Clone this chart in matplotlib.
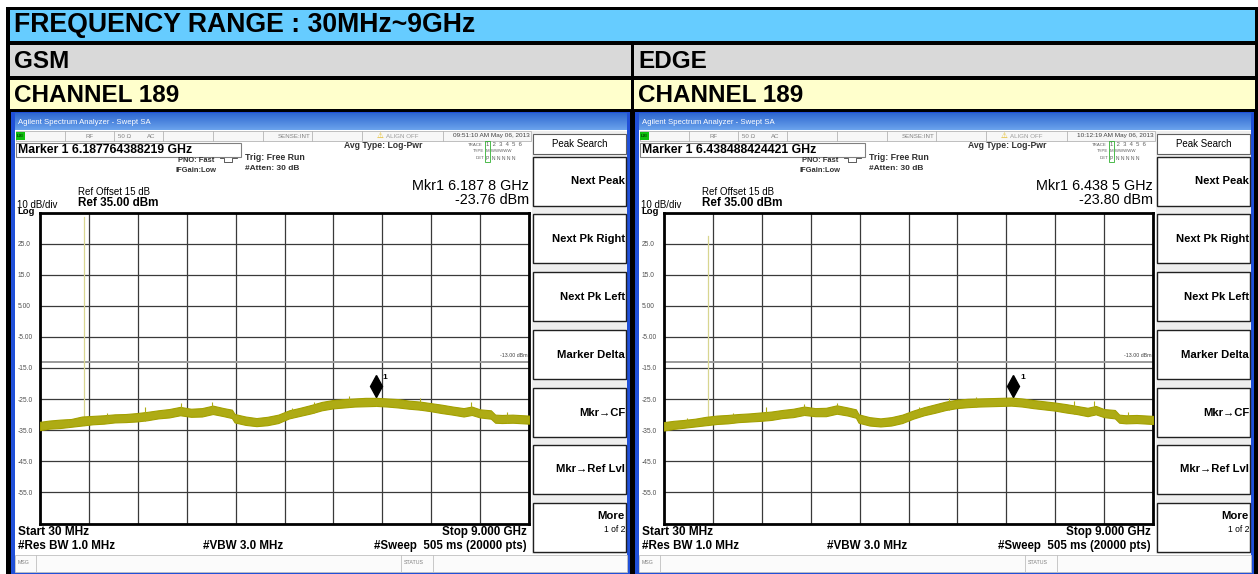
import numpy as np
import matplotlib.pyplot as plt
from matplotlib.patches import Rectangle
from matplotlib.colors import LinearSegmentedColormap
from matplotlib.transforms import offset_copy

plt.rcParams['font.family'] = ['Liberation Sans', 'DejaVu Sans']

W, H = 1258, 574

freq_ghz = [0.03, 0.2, 0.4, 0.6, 0.8, 1.0, 1.2, 1.4, 1.6, 1.8, 2.0, 2.2, 2.4, 2.6,
            2.8, 3.0, 3.2, 3.4, 3.55, 3.6, 3.8, 4.0, 4.2, 4.4, 4.6, 4.8, 5.0, 5.2,
            5.4, 5.6, 5.8, 6.0, 6.2, 6.4, 6.6, 6.8, 7.0, 7.2, 7.4, 7.6, 7.8, 7.95,
            8.1, 8.3, 8.38, 8.5, 8.7, 9.0]

gsm_hi = [-32.3, -31.9, -31.6, -31.4, -30.6, -30.4, -30.2, -29.9, -29.8, -29.5, -29.1, -28.6,
          -28.2, -27.5, -28.1, -27.9, -27.1, -27.9, -28.4, -29.8, -30.6, -31.1, -30.7, -30.0,
          -28.6, -27.8, -26.9, -25.9, -25.3, -25.0, -24.8, -24.6, -24.6, -24.8, -25.0, -25.5,
          -25.8, -26.3, -26.8, -27.4, -27.9, -27.4, -28.3, -28.6, -30.0, -30.1, -30.0, -30.3]
gsm_lo = [-35.0, -34.5, -34.3, -33.9, -33.5, -33.1, -32.9, -32.5, -32.4, -32.2, -31.8, -31.2,
          -30.9, -30.2, -30.7, -30.6, -29.8, -30.5, -31.1, -32.5, -33.3, -33.7, -33.4, -32.7,
          -31.2, -30.4, -29.6, -28.6, -28.0, -27.7, -27.4, -27.3, -27.2, -27.4, -27.7, -28.1,
          -28.4, -28.9, -29.5, -30.0, -30.6, -30.1, -30.9, -31.3, -32.6, -32.7, -32.6, -32.9]

edge_hi = [-32.4, -32.0, -31.7, -31.3, -30.7, -30.3, -30.1, -29.8, -29.6, -29.3, -29.0, -28.5,
           -28.1, -27.4, -27.9, -27.8, -27.0, -27.7, -28.3, -29.9, -30.8, -31.2, -30.8, -30.0,
           -28.7, -27.6, -26.7, -25.8, -25.2, -24.9, -24.8, -24.7, -24.6, -24.5, -24.8, -25.3,
           -25.7, -26.1, -26.6, -27.2, -27.8, -27.2, -28.2, -28.5, -30.0, -30.2, -30.1, -30.4]
edge_lo = [-35.1, -34.6, -34.2, -33.8, -33.4, -33.0, -32.8, -32.4, -32.2, -32.0, -31.7, -31.1,
           -30.8, -30.1, -30.5, -30.5, -29.7, -30.3, -31.0, -32.6, -33.5, -33.8, -33.5, -32.7,
           -31.3, -30.2, -29.4, -28.5, -27.9, -27.6, -27.4, -27.3, -27.2, -27.1, -27.4, -27.9,
           -28.3, -28.7, -29.3, -29.8, -30.5, -29.9, -30.8, -31.2, -32.6, -32.8, -32.7, -33.0]

gsm_spike_f = [0.55, 1.25, 1.95, 2.62, 3.18, 4.65, 5.05, 5.7, 6.19, 7.0, 7.93, 8.6]
gsm_spike_db = [-31.4, -29.6, -27.6, -26.4, -26.0, -27.9, -25.8, -24.1, -23.8, -24.8, -26.0, -29.2]
edge_spike_f = [0.45, 1.3, 1.9, 2.6, 3.2, 4.7, 5.25, 5.75, 6.44, 7.55, 7.92, 8.55]
edge_spike_db = [-31.2, -29.4, -27.5, -26.6, -26.1, -27.6, -24.7, -24.2, -23.8, -25.5, -25.6, -29.3]

carrier_ghz = 0.8364
gsm_carrier_db = 33.6
edge_carrier_db = 27.4
gsm_marker = (6.1878, -23.76)
edge_marker = (6.4385, -23.80)
limit_db = -13.0
start_ghz, stop_ghz = 0.03, 9.0
ref_db, bottom_db = 35.0, -65.0

ytick_vals = [25, 15, 5, -5, -15, -25, -35, -45, -55]
ytick_text = ["25.0", "15.0", "5.00", "-5.00", "-15.0", "-25.0", "-35.0", "-45.0", "-55.0"]
softkeys = ["Next Peak", "Next Pk Right", "Next Pk Left", "Marker Delta",
            "Mkr\u2192CF", "Mkr\u2192Ref Lvl", "More"]

# ---------------- figure / background axes in pixel units ----------------
fig = plt.figure(figsize=(W / 100, H / 100), dpi=100)
bg = fig.add_axes([0, 0, 1, 1])
bg.axis('off')


def rect(x0, y0, x1, y1, fc, ec='none', lw=0.0, z=1):
    bg.add_patch(Rectangle((x0, y0), x1 - x0, y1 - y0, facecolor=fc,
                           edgecolor=ec, linewidth=lw, zorder=z))


def txt(x, y, s, size, weight='normal', ha='left', color='black', z=5):
    bg.text(x, y, s, fontsize=size, fontweight=weight, ha=ha, va='center',
            color=color, zorder=z)


# table
rect(0, 0, W, H, 'white', z=0)
rect(6, 7, W, H, 'black', z=0.5)
rect(10, 10, 1255, 41, '#66ccff')
rect(10, 45, 631, 76, '#d9d9d9')
rect(634, 45, 1255, 76, '#d9d9d9')
rect(10, 80, 631, 109, '#ffffcc')
rect(634, 80, 1255, 109, '#ffffcc')
txt(14, 25.5, "FREQUENCY RANGE : 30MHz~9GHz", 19.2, 'bold')
txt(14, 61, "GSM", 17.5, 'bold')
txt(638, 61, "EDGE", 17.5, 'bold')
txt(14, 95, "CHANNEL 189", 17.5, 'bold')
txt(638, 95, "CHANNEL 189", 17.5, 'bold')

title_cmap = LinearSegmentedColormap.from_list('tb', ['#2f68d0', '#6aa2ec'])
grad = np.linspace(0, 1, 16).reshape(-1, 1)


def panel(dx, stamp, mk_full, mk_f_txt, mk_db_txt, hi, lo, sp_f, sp_db, car_db, mk):
    # window frame and title bar
    rect(11 + dx, 112, 630 + dx, 574, '#2050d8')
    bg.imshow(grad, cmap=title_cmap, extent=[15 + dx, 627 + dx, 130, 113],
              aspect='auto', zorder=2)
    txt(18 + dx, 122, "Agilent Spectrum Analyzer - Swept SA", 5.6, color='white')
    rect(15 + dx, 130, 627 + dx, 572, 'white', z=2)

    # status bar
    rect(16 + dx, 131, 531 + dx, 141, '#f7f7f7', ec='#b5b5b5', lw=0.6, z=3)
    for sx in [65, 114, 163, 213, 263, 312, 362, 443]:
        bg.plot([sx + dx, sx + dx], [131, 141], color='#b5b5b5', lw=0.6, zorder=4)
    rect(16 + dx, 132, 25 + dx, 140, '#10c010', z=4)
    txt(17 + dx, 136, "LXI", 3.2, 'bold', color='#004000')
    txt(85 + dx, 136, "RF", 4.4, color='#808080')
    txt(118 + dx, 136, "50 \u03a9", 4.4, color='#808080')
    txt(147 + dx, 136, "AC", 4.4, color='#808080')
    txt(310 + dx, 136, "SENSE:INT", 4.4, ha='right', color='#808080')
    txt(377 + dx, 136, "\u26a0", 5.5, color='#e0b000')
    txt(386 + dx, 136, "ALIGN OFF", 4.4, color='#9a9a9a')
    txt(530 + dx, 136, stamp, 4.6, ha='right', color='#404040')

    # marker readout box and settings
    rect(16 + dx, 143, 241 + dx, 157, 'white', ec='#808080', lw=0.8, z=3)
    txt(18 + dx, 150, mk_full, 8.8, 'bold')
    txt(178 + dx, 161, "PNO: Fast", 5.4, 'bold', color='#303030')
    txt(176 + dx, 171, "IFGain:Low", 5.4, 'bold', color='#303030')
    bg.plot([220 + dx, 224 + dx, 224 + dx, 232 + dx, 232 + dx, 237 + dx],
            [158, 158, 162, 162, 158, 158], color='#404040', lw=0.6, zorder=4)
    txt(245 + dx, 157, "Trig: Free Run", 6.3, 'bold', color='#303030')
    txt(245 + dx, 169, "#Atten: 30 dB", 6.0, 'bold', color='#303030')
    txt(422 + dx, 146, "Avg Type: Log-Pwr", 6.2, 'bold', ha='right', color='#303030')

    txt(483 + dx, 144.5, "TRACE", 3.2, ha='right', color='#606060')
    txt(484 + dx, 151.5, "TYPE", 3.2, ha='right', color='#606060')
    txt(484 + dx, 158, "DET", 3.2, ha='right', color='#606060')
    rect(485 + dx, 141, 490 + dx, 162, 'none', ec='#30b030', lw=0.6, z=4)
    txt(486 + dx, 144.5, "1  2  3  4  5  6", 4.2, color='#606060')
    txt(486 + dx, 151.5, "M WWWWW", 3.2, color='#606060')
    txt(486 + dx, 158, "P  N N N N N", 3.6, color='#606060')

    txt(529 + dx, 186, mk_f_txt, 10.4, ha='right')
    txt(529 + dx, 199.5, mk_db_txt, 10.4, ha='right')
    txt(78 + dx, 192, "Ref Offset 15 dB", 7.0)
    txt(78 + dx, 203.5, "Ref 35.00 dBm", 8.4, 'bold')
    txt(17 + dx, 205, "10 dB/div", 7.0)
    txt(17 + dx, 212, "Log", 6.8, 'bold')

    # bottom annotations and message bar
    txt(18 + dx, 532, "Start 30 MHz", 8.6, 'bold')
    txt(527 + dx, 532, "Stop 9.000 GHz", 8.4, 'bold', ha='right')
    txt(18 + dx, 546, "#Res BW 1.0 MHz", 8.4, 'bold')
    txt(203 + dx, 546, "#VBW 3.0 MHz", 8.4, 'bold')
    txt(527 + dx, 546, "#Sweep  505 ms (20000 pts)", 8.3, 'bold', ha='right')
    rect(15 + dx, 555, 627 + dx, 572, '#fbfbfb', ec='#c0c0c0', lw=0.6, z=3)
    bg.plot([401 + dx, 401 + dx], [555, 572], color='#c0c0c0', lw=0.6, zorder=4)
    bg.plot([36 + dx, 36 + dx], [555, 572], color='#c0c0c0', lw=0.6, zorder=4)
    bg.plot([433 + dx, 433 + dx], [555, 572], color='#c0c0c0', lw=0.6, zorder=4)
    txt(18 + dx, 563, "MSG", 3.8, color='#808080')
    txt(404 + dx, 563, "STATUS", 3.8, color='#808080')

    # softkey column
    rect(532 + dx, 131, 627 + dx, 554, '#eeeeee', z=3)
    rect(533 + dx, 134, 626 + dx, 154, 'white', ec='#606060', lw=0.8, z=4)
    txt(579.5 + dx, 144, "Peak Search", 7.0, ha='center')
    key_top = [157, 214, 272, 330, 388, 445, 503]
    for lab, ty in zip(softkeys, key_top):
        rect(533 + dx, ty, 626 + dx, ty + 49, 'white', ec='#202020', lw=1.0, z=4)
        if lab == "More":
            txt(625 + dx, ty + 13, lab, 8.2, 'bold', ha='right')
            txt(625 + dx, ty + 27, "1 of 2", 6.2, ha='right')
        else:
            txt(625 + dx, ty + 24.5, lab, 8.1, 'bold', ha='right')

    # plot area in data units
    ax = fig.add_axes([(40 + dx) / W, (H - 523.5) / H, 489 / W, 311 / H])
    ax.set_zorder(6)
    ax.set_xlim(start_ghz, stop_ghz)
    ax.set_ylim(bottom_db, ref_db)
    ax.set_xticks(np.linspace(start_ghz, stop_ghz, 11))
    ax.set_yticks(np.arange(bottom_db, ref_db + 1, 10))
    ax.grid(True, color='#3a3a3a', lw=0.9)
    ax.set_axisbelow(True)
    for s in ax.spines.values():
        s.set_linewidth(2.0)
        s.set_color('black')
    ax.tick_params(length=0, labelbottom=False)
    labs = []
    for v in np.arange(bottom_db, ref_db + 1, 10):
        labs.append(ytick_text[ytick_vals.index(int(v))] if int(v) in ytick_vals else "")
    ax.set_yticklabels(labs, fontsize=4.8, color='#505050')
    ax.tick_params(axis='y', pad=16)
    for t in ax.get_yticklabels():
        t.set_horizontalalignment('left')

    ax.axhline(limit_db, color='#9a9a9a', lw=1.4, zorder=2)
    ax.text(stop_ghz - 0.03, limit_db + 1.2, "-13.00 dBm", fontsize=3.8,
            ha='right', va='bottom', color='#404040')

    trace_c = '#aeab14'
    base = np.interp(carrier_ghz, freq_ghz, lo)
    ax.plot([carrier_ghz, carrier_ghz], [base, car_db], color='#d8d690', lw=0.9, zorder=3)
    ax.fill_between(freq_ghz, lo, hi, color=trace_c, edgecolor='#a3a000', lw=0.8, zorder=4)
    sp_base = np.interp(sp_f, freq_ghz, lo)
    ax.vlines(sp_f, sp_base, sp_db, color=trace_c, lw=0.8, zorder=4)

    mtr = offset_copy(ax.transData, fig=fig, y=6.5, units='points')
    ax.plot([mk[0]], [mk[1]], marker='d', ms=11, color='black', transform=mtr, zorder=7)
    ltr = offset_copy(ax.transData, fig=fig, x=5, y=13, units='points')
    ax.text(mk[0], mk[1], "1", fontsize=6, fontweight='bold', transform=ltr,
            ha='left', va='center', zorder=7)


panel(0, "09:51:10 AM May 06, 2013", "Marker 1 6.187764388219 GHz",
      "Mkr1 6.187 8 GHz", "-23.76 dBm", gsm_hi, gsm_lo, gsm_spike_f, gsm_spike_db,
      gsm_carrier_db, gsm_marker)
panel(624, "10:12:19 AM May 06, 2013", "Marker 1 6.438488424421 GHz",
      "Mkr1 6.438 5 GHz", "-23.80 dBm", edge_hi, edge_lo, edge_spike_f, edge_spike_db,
      edge_carrier_db, edge_marker)

bg.set_xlim(0, W)
bg.set_ylim(H, 0)
fig.savefig('out.png', dpi=100)
